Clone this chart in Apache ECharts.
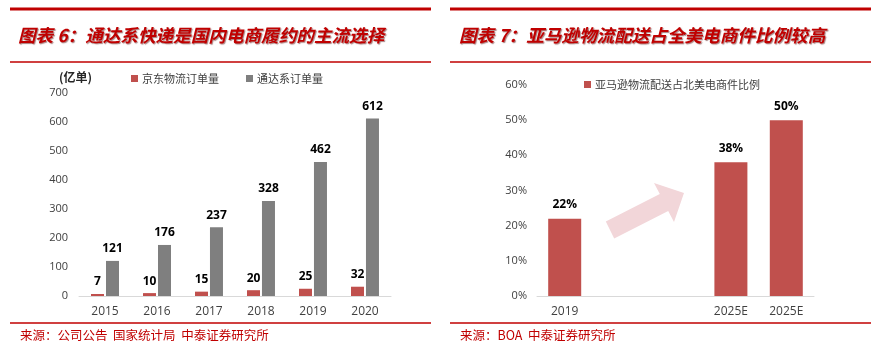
<!DOCTYPE html>
<html><head><meta charset="utf-8">
<script src="https://cdn.jsdelivr.net/npm/echarts@6/dist/echarts.min.js"></script>
<style>html,body{margin:0;padding:0;background:#fff}#c{width:883px;height:357px}</style>
</head><body><div id="c"></div>
<script>
// Left chart data
var yearsL = ['2015', '2016', '2017', '2018', '2019', '2020'];
var jdOrders = [7, 10, 15, 20, 25, 32];
var tongdaOrders = [121, 176, 237, 328, 462, 612];
var leftSeriesNames = ['京东物流订单量', '通达系订单量'];
// Right chart data
var catsR = ['2019', '', '', '2025E', '2025E'];
var amazonShare = [22, null, null, 38, 50];
var rightSeriesName = '亚马逊物流配送占北美电商件比例';

var RED = '#c0504d', GRAY = '#7f7f7f', TITLE_RED = '#c00000';
var FONT = '"Open Sans","Noto Sans CJK SC",sans-serif';
var CJK = '"Noto Sans CJK SC",sans-serif';

var chart = echarts.init(document.getElementById('c'));
function hline(x1, x2, y, w) {
  return {type: 'line', shape: {x1: x1, y1: y, x2: x2, y2: y}, style: {stroke: TITLE_RED, lineWidth: w}, silent: true};
}
var titleStyle = {fill: TITLE_RED, font: 'italic bold 17.6px ' + CJK, textVerticalAlign: 'middle', textShadowColor: 'rgba(80,0,0,0.5)', textShadowBlur: 1, textShadowOffsetX: 1, textShadowOffsetY: 1};
var srcStyle = {fill: TITLE_RED, font: '12.5px ' + CJK, textVerticalAlign: 'middle'};

chart.setOption({
  animation: false,
  textStyle: {fontFamily: FONT},
  grid: [
    {left: 79, top: 93, width: 312, height: 203},
    {left: 537, top: 85, width: 277, height: 211}
  ],
  legend: [
    {data: leftSeriesNames, left: 126, top: 68, itemWidth: 7, itemHeight: 7, itemGap: 27, icon: 'rect',
     textStyle: {fontSize: 11, color: '#404040', fontFamily: CJK, padding: [0, 0, 0, -1]}},
    {data: [rightSeriesName], left: 579, top: 74, itemWidth: 7, itemHeight: 7, icon: 'rect',
     textStyle: {fontSize: 11, color: '#404040', fontFamily: CJK, padding: [0, 0, 0, -1]}}
  ],
  xAxis: [
    {type: 'category', gridIndex: 0, data: yearsL, axisTick: {show: false},
     axisLine: {lineStyle: {color: '#d9d9d9'}},
     axisLabel: {color: '#404040', fontSize: 12, margin: 10}},
    {type: 'category', gridIndex: 1, data: catsR, axisTick: {show: false},
     axisLine: {lineStyle: {color: '#d9d9d9'}},
     axisLabel: {color: '#404040', fontSize: 12, margin: 10, interval: 0}}
  ],
  yAxis: [
    {type: 'value', gridIndex: 0, min: 0, max: 700, interval: 100, splitLine: {show: false},
     axisLine: {show: false}, axisTick: {show: false},
     axisLabel: {color: '#404040', fontSize: 11, margin: 11}},
    {type: 'value', gridIndex: 1, min: 0, max: 60, interval: 10, splitLine: {show: false},
     axisLine: {show: false}, axisTick: {show: false},
     axisLabel: {color: '#404040', fontSize: 11, margin: 10, formatter: '{value}%'}}
  ],
  series: [
    {name: leftSeriesNames[0], type: 'bar', xAxisIndex: 0, yAxisIndex: 0, data: jdOrders,
     barWidth: 13, barGap: '15%', itemStyle: {color: RED},
     label: {show: true, position: 'top', color: '#000', fontWeight: 'bold', fontSize: 12, distance: 6}},
    {name: leftSeriesNames[1], type: 'bar', xAxisIndex: 0, yAxisIndex: 0, data: tongdaOrders,
     barWidth: 13, itemStyle: {color: GRAY},
     label: {show: true, position: 'top', color: '#000', fontWeight: 'bold', fontSize: 12, distance: 6}},
    {name: rightSeriesName, type: 'bar', xAxisIndex: 1, yAxisIndex: 1, data: amazonShare,
     barWidth: 33, itemStyle: {color: RED},
     label: {show: true, position: 'top', color: '#000', fontWeight: 'bold', fontSize: 12, distance: 8, formatter: '{c}%'}}
  ],
  graphic: [
    hline(10, 431, 9, 3), hline(10, 431, 62, 1.5), hline(10, 431, 323, 1.5),
    hline(450, 871, 9, 3), hline(450, 871, 62, 1.5), hline(450, 871, 323, 1.5),
    {type: 'text', left: 18, top: 27, style: Object.assign({text: '图表 6：通达系快递是国内电商履约的主流选择'}, titleStyle)},
    {type: 'text', left: 459, top: 27, style: Object.assign({text: '图表 7：亚马逊物流配送占全美电商件比例较高'}, titleStyle)},
    {type: 'text', left: 20, top: 329, style: Object.assign({text: '来源：公司公告  国家统计局  中泰证券研究所'}, srcStyle)},
    {type: 'text', left: 460, top: 329, style: Object.assign({text: '来源：BOA  中泰证券研究所'}, srcStyle)},
    {type: 'text', left: 59, top: 71, style: {text: '(亿单)', fill: '#262626', font: 'bold 12px ' + CJK}},
    {type: 'polygon', silent: true, z: -1,
     shape: {points: [[605.8, 221.5], [659.8, 194], [654, 183], [684, 193], [674, 222], [668.2, 211], [614.2, 238.5]]},
     style: {fill: '#f2d6d9'}}
  ]
});
</script></body></html>
